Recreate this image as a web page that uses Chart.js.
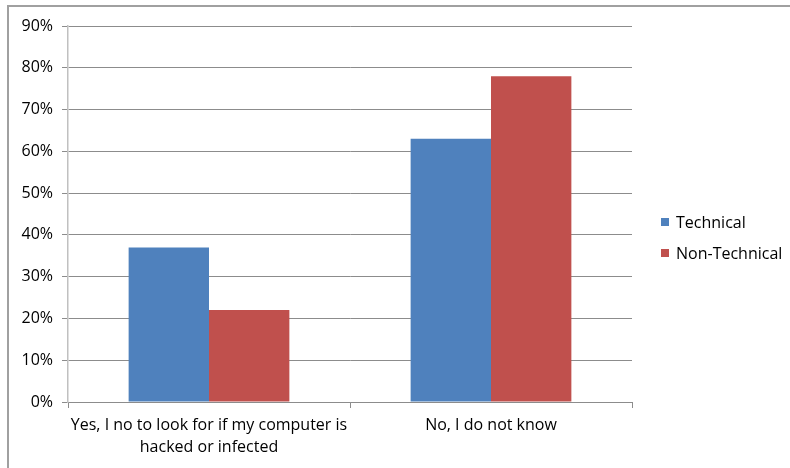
<!DOCTYPE html>
<html>
<head>
<meta charset="utf-8">
<script src="https://cdn.jsdelivr.net/npm/chart.js@4/dist/chart.umd.min.js"></script>
<style>
  html, body { margin: 0; padding: 0; background: #fff; }
  #wrap { position: relative; width: 790px; height: 468px; }
  #frame { position: absolute; left: 7px; top: 5px; right: 0; bottom: 0;
           border-top: 2px solid #a0a0a0; border-left: 2px solid #a0a0a0; pointer-events: none; }
  canvas { position: absolute; left: 0; top: 0; }
</style>
</head>
<body>
<div id="wrap">
  <canvas id="chart" width="790" height="468"></canvas>
  <div id="frame"></div>
</div>
<script>
const categories = [
  ["Yes, I no to look for if my computer is", "hacked or infected"],
  "No, I do not know"
];
const seriesNames = ["Technical", "Non-Technical"];
const technical = [37, 63];
const nonTechnical = [22, 78];
const seriesColors = ["#4F81BD", "#C0504D"];

const FONT = "'Open Sans', Lato, sans-serif";

// Legend drawn at the right of the plot, square swatch followed by the series name
const sideLegend = {
  id: 'sideLegend',
  afterDraw(chart) {
    const ctx = chart.ctx;
    ctx.save();
    ctx.font = "16px " + FONT;
    ctx.textBaseline = 'middle';
    const ys = [222, 253];
    chart.data.datasets.forEach((ds, i) => {
      ctx.fillStyle = ds.backgroundColor;
      ctx.fillRect(661, ys[i] - 4, 8, 8);
      ctx.fillStyle = '#000';
      ctx.fillText(ds.label, 676, ys[i] + 1);
    });
    ctx.restore();
  }
};

new Chart(document.getElementById('chart'), {
  type: 'bar',
  data: {
    labels: categories,
    datasets: [
      { label: seriesNames[0], data: technical, backgroundColor: seriesColors[0] },
      { label: seriesNames[1], data: nonTechnical, backgroundColor: seriesColors[1] }
    ]
  },
  options: {
    responsive: false,
    animation: false,
    devicePixelRatio: 1,
    layout: { padding: { top: 26, right: 158, bottom: 0, left: 0 } },
    datasets: { bar: { categoryPercentage: 0.57, barPercentage: 1.0 } },
    plugins: { legend: { display: false }, tooltip: { enabled: false } },
    scales: {
      x: {
        afterFit(scale) { scale.height = 66; },
        grid: { display: true, drawOnChartArea: false, drawTicks: true, tickLength: 6, color: '#8c8c8c', offset: true },
        border: { display: true, color: '#8c8c8c', width: 1 },
        ticks: { color: '#000', font: { family: FONT, size: 16, lineHeight: 1.375 }, padding: 6, maxRotation: 0, autoSkip: false }
      },
      y: {
        min: 0, max: 90,
        afterFit(scale) { scale.width = 68; },
        grid: { color: '#8c8c8c', lineWidth: 1, drawTicks: true, tickLength: 6 },
        border: { display: true, color: '#c0c0c0', width: 1.5 },
        ticks: {
          stepSize: 10, padding: 9, color: '#000',
          font: { family: FONT, size: 16 },
          callback: v => v + '%'
        }
      }
    }
  },
  plugins: [sideLegend]
});
</script>
</body>
</html>
